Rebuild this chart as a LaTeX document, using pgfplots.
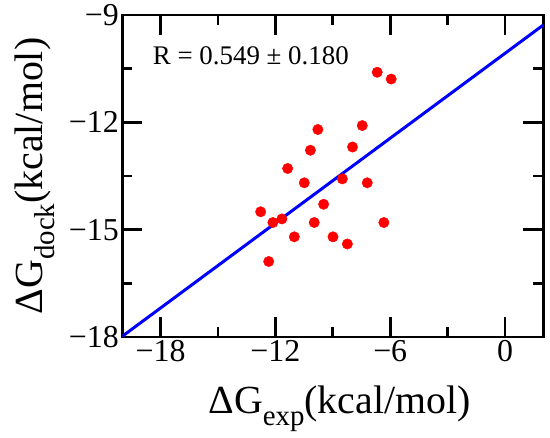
\documentclass[border=0pt]{standalone}
\usepackage{fontspec}
\setmainfont{Liberation Serif}
\usepackage{pgfplots}
\pgfplotsset{compat=1.18}
\begin{document}
\begin{tikzpicture}
\begin{axis}[
  scale only axis, width=421bp, height=322bp,
  xmin=-20, xmax=2, ymin=-18, ymax=-9,
  xtick={-18,-12,-6,0},
  ytick={-18,-15,-12,-9},
  minor tick num=1,
  tick align=inside,
  major tick length=20bp, minor tick length=10bp,
  tick style={line width=2.7bp, black},
  axis line style={line width=2.7bp, black},
  xticklabels={−18,−12,−6,0},
  yticklabels={−18,−15,−12,−9},
  ticklabel style={font=\fontsize{32}{38}\selectfont},
  xlabel={ΔG\raisebox{-12bp}{\fontsize{29}{29}\selectfont exp}(kcal/mol)},
  ylabel={ΔG\raisebox{-12bp}{\fontsize{29}{29}\selectfont dock}(kcal/mol)},
  xlabel style={font=\fontsize{40}{48}\selectfont, at={(axis description cs:0.5,0)}, anchor=base, yshift=-76bp, xshift=6.7bp, inner sep=0pt},
  ylabel style={font=\fontsize{40}{48}\selectfont, at={(axis description cs:-0.190,0.5)}, anchor=base, inner sep=0pt},
]
\addplot[only marks, mark=*, mark size=5.2bp, color=red] coordinates {
(-6.68,-10.60) (-5.95,-10.79) (-9.78,-12.20) (-7.46,-12.09) (-10.17,-12.78)
(-7.97,-12.69) (-11.36,-13.29) (-10.49,-13.69) (-8.50,-13.58) (-7.20,-13.69)
(-9.48,-14.29) (-12.77,-14.50) (-12.13,-14.80) (-11.66,-14.70) (-9.97,-14.80)
(-6.33,-14.80) (-11.01,-15.20) (-8.99,-15.20) (-8.24,-15.40) (-12.35,-15.89)
};
\addplot[color=blue, line width=3bp] coordinates {(-20,-17.98) (2,-9.28)};
\node[anchor=base west, inner sep=0pt, font=\fontsize{27}{32}\selectfont] at (axis description cs:0.0722,0.845) {R = 0.549 ± 0.180};
\end{axis}
\path (-122.3bp,-101bp) rectangle (427.7bp,337bp);
\end{tikzpicture}
\end{document}
